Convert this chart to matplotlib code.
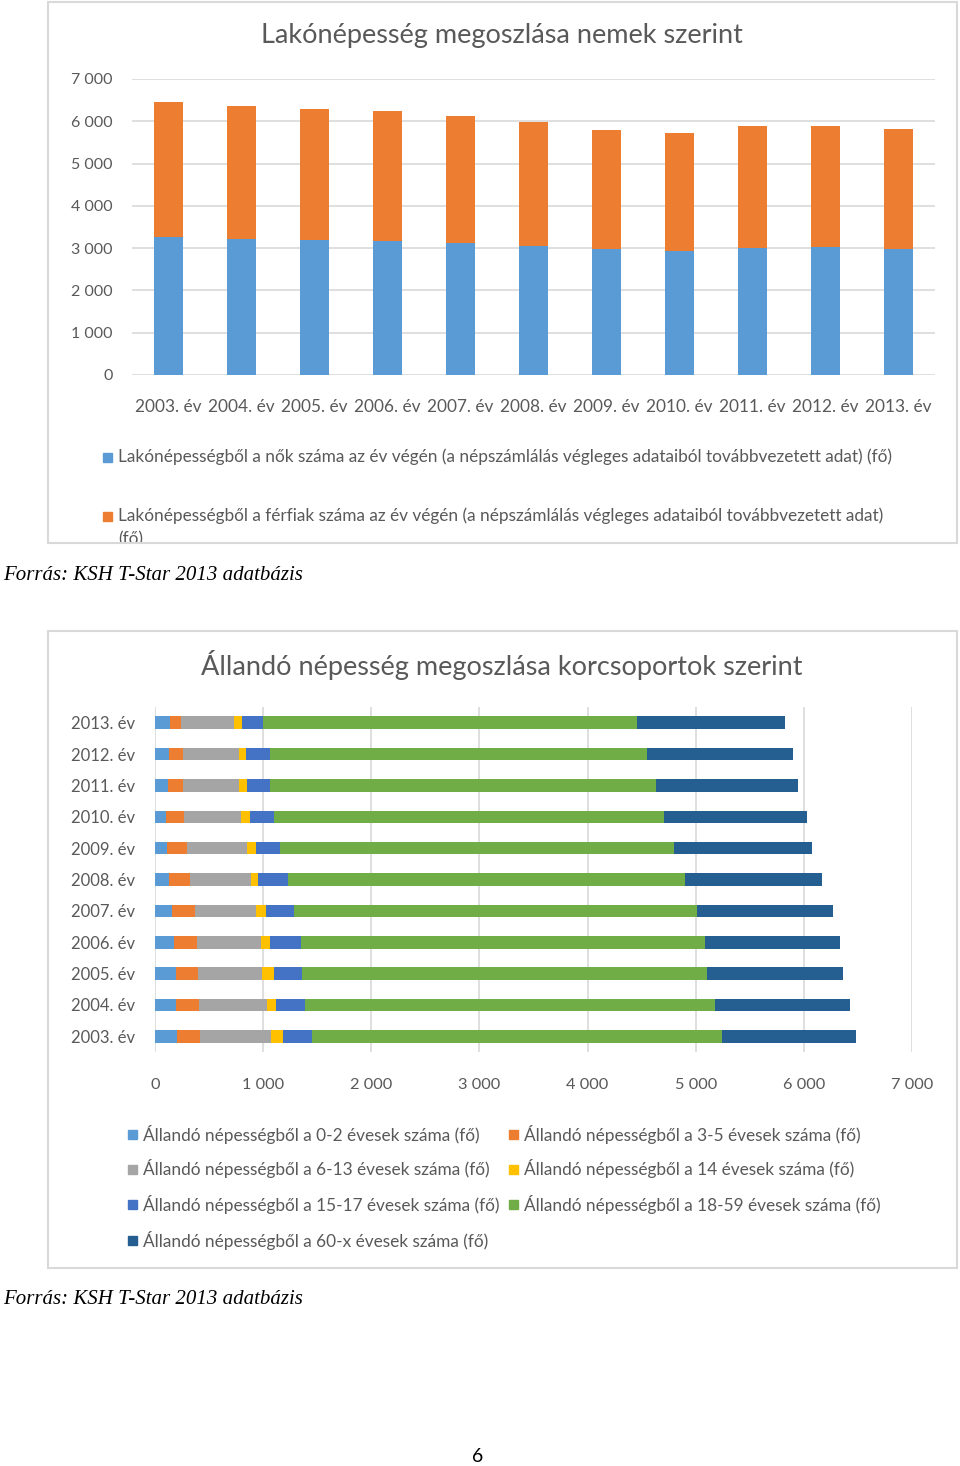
import numpy as np
import matplotlib
matplotlib.use("Agg")
import matplotlib.pyplot as plt
from matplotlib.patches import Rectangle
from matplotlib.ticker import FuncFormatter

plt.rcParams["font.family"] = ["Lato", "DejaVu Sans"]

# --- data: top chart (lakónépesség nemek szerint) ---
years = ["2003. év", "2004. év", "2005. év", "2006. év", "2007. év", "2008. év",
         "2009. év", "2010. év", "2011. év", "2012. év", "2013. év"]
women = [3275, 3228, 3197, 3173, 3125, 3062, 2968, 2936, 3015, 3031, 2983]
men = [3175, 3133, 3093, 3062, 3008, 2921, 2833, 2778, 2865, 2857, 2842]
top_legend = [
    "Lakónépességből a nők száma az év végén (a népszámlálás végleges adataiból továbbvezetett adat) (fő)",
    "Lakónépességből a férfiak száma az év végén (a népszámlálás végleges adataiból továbbvezetett adat)",
]

# --- data: bottom chart (állandó népesség korcsoportok szerint), 2003 -> 2013 ---
age_0_2 = [204, 191, 191, 178, 161, 132, 115, 102, 119, 132, 136]
age_3_5 = [212, 217, 204, 208, 208, 195, 183, 166, 144, 123, 102]
age_6_13 = [654, 629, 599, 590, 565, 565, 552, 531, 518, 518, 497]
age_14 = [115, 85, 102, 89, 89, 64, 85, 81, 72, 64, 68]
age_15_17 = [263, 266, 259, 289, 259, 272, 225, 221, 208, 229, 200]
age_18_59 = [3794, 3786, 3751, 3730, 3726, 3670, 3636, 3602, 3568, 3479, 3458]
age_60 = [1240, 1256, 1253, 1253, 1262, 1270, 1283, 1325, 1321, 1355, 1368]
age_series = [age_0_2, age_3_5, age_6_13, age_14, age_15_17, age_18_59, age_60]
age_labels = [
    "Állandó népességből a 0-2 évesek száma (fő)",
    "Állandó népességből a 3-5 évesek száma (fő)",
    "Állandó népességből a 6-13 évesek száma (fő)",
    "Állandó népességből a 14 évesek száma (fő)",
    "Állandó népességből a 15-17 évesek száma (fő)",
    "Állandó népességből a 18-59 évesek száma (fő)",
    "Állandó népességből a 60-x évesek száma (fő)",
]
age_colors = ["#5B9BD5", "#ED7D31", "#A5A5A5", "#FFC000", "#4472C4", "#70AD47", "#255E91"]

W, H = 960, 1466
TXT = "#595959"
GRID = "#D9D9D9"
FS = 12.4


def rect(l, t, r, b):
    return [l / W, 1 - b / H, (r - l) / W, (b - t) / H]


def fx(x):
    return x / W


def fy(y):
    return 1 - y / H


fmt = FuncFormatter(lambda v, p: f"{int(v):,}".replace(",", " "))

fig = plt.figure(figsize=(W / 100, H / 100), dpi=100)

# chart frames
for (l, t, r, b) in [(48, 2, 957, 543), (48, 631, 957, 1268)]:
    fig.patches.append(Rectangle((fx(l), fy(b)), (r - l) / W, (b - t) / H,
                                 transform=fig.transFigure, fill=False,
                                 edgecolor=GRID, linewidth=1.5))

# ---- top chart ----
ax = fig.add_axes(rect(132, 79, 935, 375))
x = np.arange(len(years))
ax.bar(x, women, width=0.4, color="#5B9BD5", zorder=2)
ax.bar(x, men, width=0.4, bottom=women, color="#ED7D31", zorder=2)
ax.set_xlim(-0.5, len(years) - 0.5)
ax.set_ylim(0, 7000)
ax.set_yticks(range(0, 7001, 1000))
ax.yaxis.set_major_formatter(fmt)
ax.set_xticks(x)
ax.set_xticklabels(years)
ax.grid(axis="y", color=GRID, linewidth=1.2, zorder=0)
for s in ax.spines.values():
    s.set_visible(False)
ax.tick_params(axis="y", length=0, pad=14, labelsize=11.5, labelcolor=TXT)
ax.tick_params(axis="x", length=0, pad=17, labelsize=FS, labelcolor=TXT)
fig.text(fx(502), fy(36), "Lakónépesség megoszlása nemek szerint", ha="center",
         va="center", fontsize=19.5, color=TXT)

# top legend
for lab, col, yy in zip(top_legend, ["#5B9BD5", "#ED7D31"], [457, 516]):
    fig.patches.append(Rectangle((fx(103), fy(yy + 5)), 9 / W, 9 / H,
                                 transform=fig.transFigure, color=col))
    fig.text(fx(118), fy(yy), lab, ha="left", va="center", fontsize=FS, color=TXT)
# wrapped tail of the second entry, cut off by the chart frame
tail = fig.text(fx(118), fy(539), "(fő)", ha="left", va="center", fontsize=FS, color=TXT)
tail.set_clip_path(Rectangle((0, fy(542)), 1, fy(0) - fy(542), transform=fig.transFigure))

fig.text(fx(3), fy(575), "Forrás: KSH T-Star 2013 adatbázis", ha="left", va="center",
         fontsize=15, style="italic", family="Liberation Serif", color="black")

# ---- bottom chart ----
ax2 = fig.add_axes(rect(155, 707, 912, 1052))
yy = np.arange(len(years))
left = np.zeros(len(years))
for vals, col in zip(age_series, age_colors):
    ax2.barh(yy, vals, height=0.4, left=left, color=col, zorder=2)
    left = left + np.array(vals)
ax2.set_ylim(-0.5, len(years) - 0.5)
ax2.set_xlim(0, 7000)
ax2.set_xticks(range(0, 7001, 1000))
ax2.xaxis.set_major_formatter(fmt)
ax2.set_yticks(yy)
ax2.set_yticklabels(years)
ax2.grid(axis="x", color=GRID, linewidth=1.2, zorder=0)
for s in ax2.spines.values():
    s.set_visible(False)
ax2.tick_params(axis="y", length=0, pad=14, labelsize=12, labelcolor=TXT)
ax2.tick_params(axis="x", length=0, pad=19, labelsize=11.8, labelcolor=TXT)
fig.text(fx(502), fy(665), "Állandó népesség megoszlása korcsoportok szerint",
         ha="center", va="center", fontsize=19.5, color=TXT)

# bottom legend (two columns)
leg_pos = [(133, 1134), (514, 1134), (133, 1169), (514, 1169),
           (133, 1204), (514, 1204), (133, 1240)]
for (lx, ly), lab, col in zip(leg_pos, age_labels, age_colors):
    fig.patches.append(Rectangle((fx(lx - 5), fy(ly + 5)), 9 / W, 9 / H,
                                 transform=fig.transFigure, color=col))
    fig.text(fx(lx + 10), fy(ly), lab, ha="left", va="center", fontsize=FS, color=TXT)

fig.text(fx(3), fy(1299), "Forrás: KSH T-Star 2013 adatbázis", ha="left", va="center",
         fontsize=15, style="italic", family="Liberation Serif", color="black")

fig.text(fx(478), fy(1456), "6", ha="center", va="center", fontsize=14, color="black")

fig.savefig("out.png", dpi=100)
